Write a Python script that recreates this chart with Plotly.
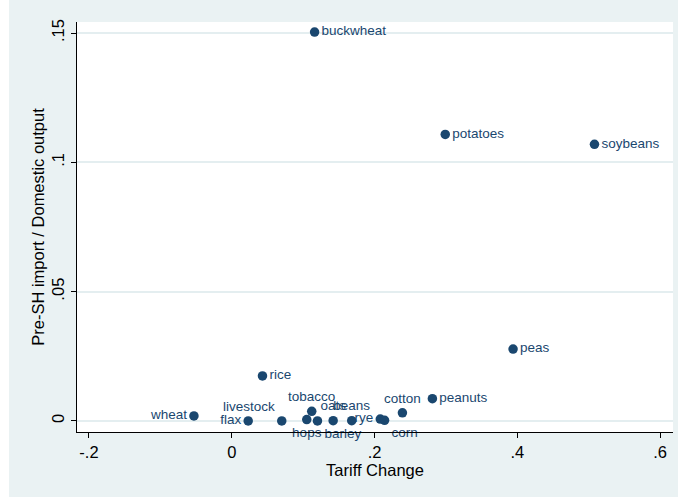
import plotly.graph_objects as go

crops = ["buckwheat", "potatoes", "soybeans", "peas", "peanuts", "rice", "wheat",
         "cotton", "flax", "livestock", "tobacco", "hops", "barley", "oats",
         "beans", "rye", "corn"]
tariff_change = [0.116, 0.299, 0.508, 0.394, 0.281, 0.043, -0.053,
                 0.239, 0.023, 0.070, 0.112, 0.105, 0.120, 0.142,
                 0.168, 0.208, 0.214]
import_ratio = [0.1504, 0.1108, 0.1070, 0.0278, 0.0086, 0.0174, 0.0019,
                0.0031, 0.0000, 0.0000, 0.0037, 0.0005, 0.0000, 0.0001,
                0.0001, 0.0007, 0.0002]
label_pos = ["middle right", "middle right", "middle right", "middle right",
             "middle right", "middle right", "middle left",
             "top center", "middle left", "top left", "top center",
             "bottom center", "bottom right", "top center",
             "top center", "middle left", "bottom right"]

x_ticks = [-0.2, 0, 0.2, 0.4, 0.6]
x_ticktext = ["-.2", "0", ".2", ".4", ".6"]
y_ticks = [0, 0.05, 0.1, 0.15]
y_ticktext = ["0", ".05", ".1", ".15"]

navy = "#1a476f"
font_family = "Liberation Sans, Arial, Helvetica, sans-serif"

W, H = 678, 497
ML, MR, MT, MB = 77, 5, 22, 65
pw = W - ML - MR

fig = go.Figure(go.Scatter(
    x=tariff_change, y=import_ratio, mode="markers+text",
    text=crops, textposition=label_pos,
    marker=dict(size=9.5, color=navy),
    textfont=dict(family=font_family, size=13.5, color=navy),
    cliponaxis=False, showlegend=False,
))

fig.update_layout(
    width=W, height=H,
    margin=dict(l=ML, r=MR, t=MT, b=MB),
    paper_bgcolor="#eaf2f3",
    plot_bgcolor="#ffffff",
    font=dict(family=font_family, color="#000000"),
    shapes=[dict(type="rect", xref="paper", yref="paper",
                 x0=-ML / pw, x1=(9 - ML) / pw, y0=-2, y1=2,
                 fillcolor="#ffffff", line=dict(width=0), layer="below")],
)
fig.update_xaxes(
    range=[-0.2168, 0.618], tickvals=x_ticks, ticktext=x_ticktext,
    showgrid=False, zeroline=False,
    showline=True, linecolor="#000000", linewidth=1,
    ticks="outside", ticklen=5, tickcolor="#000000",
    tickfont=dict(size=16.5),
    title=dict(text="Tariff Change", font=dict(size=16.5), standoff=2),
)
fig.update_yaxes(
    range=[-0.0043, 0.1543], tickvals=y_ticks, ticktext=y_ticktext,
    showgrid=True, gridcolor="#e4eef0", gridwidth=1.5, zeroline=False,
    showline=True, linecolor="#000000", linewidth=1,
    ticks="outside", ticklen=5, tickcolor="#000000",
    tickangle=-90, tickfont=dict(size=16.5),
    title=dict(text="Pre-SH import / Domestic output", font=dict(size=16.5), standoff=0),
)

fig.write_html("out.html")
